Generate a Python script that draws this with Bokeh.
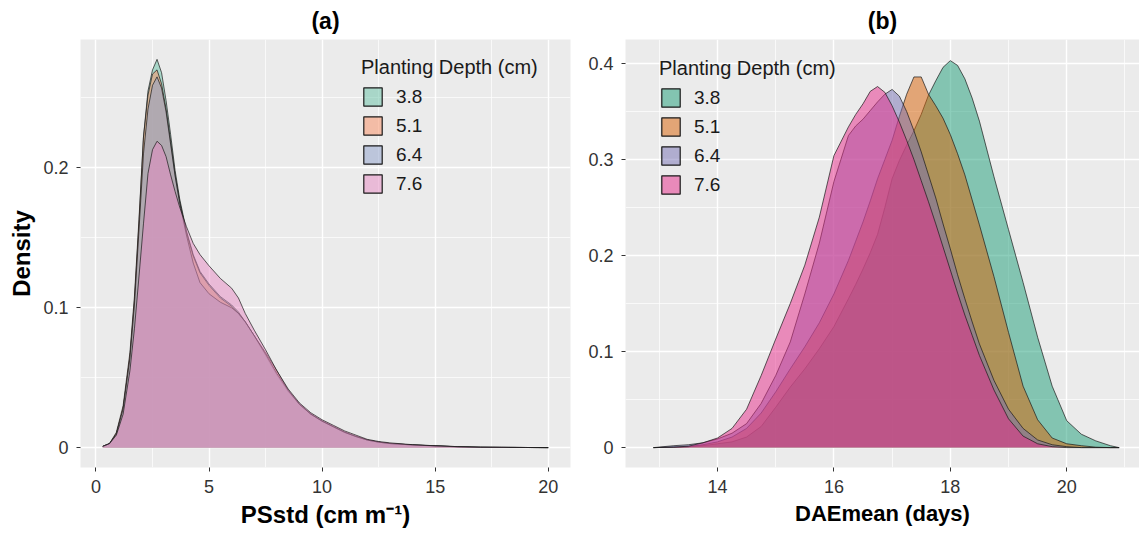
from bokeh.plotting import figure
from bokeh.models import FixedTicker, Legend, LegendItem, Range1d, CustomJSTickFormatter, ColumnDataSource
from bokeh.layouts import row
from bokeh.embed import file_html
from bokeh.resources import INLINE

# ---------------- data ----------------
depths = ["3.8", "5.1", "6.4", "7.6"]

# Panel (a): PSstd density
a_x = [0.3, 0.6, 0.9, 1.2, 1.5, 1.7, 1.9, 2.1, 2.3, 2.5, 2.7, 2.9, 3.1, 3.3, 3.5, 3.7,
       4.0, 4.3, 4.6, 5.0, 5.5, 6.0, 6.3, 6.6, 7.0, 7.5, 8.0, 8.5, 9.0, 9.5, 10.0, 10.5,
       11.0, 11.5, 12.0, 12.5, 13.0, 14.0, 15.0, 16.0, 17.0, 18.0, 19.0, 20.0]
a_38 = [0.001, 0.003, 0.010, 0.028, 0.065, 0.105, 0.160, 0.222, 0.255, 0.270, 0.2775, 0.268,
        0.248, 0.224, 0.198, 0.178, 0.155, 0.138, 0.126, 0.117, 0.108, 0.102, 0.097, 0.090,
        0.080, 0.066, 0.052, 0.040, 0.031, 0.024, 0.019, 0.015, 0.011, 0.008, 0.0055, 0.004,
        0.003, 0.002, 0.0015, 0.0008, 0.0004, 0.0003, 0.0002, 0.0001]
a_51 = [0.001, 0.003, 0.011, 0.030, 0.068, 0.108, 0.163, 0.222, 0.252, 0.267, 0.270, 0.260,
        0.242, 0.219, 0.195, 0.176, 0.154, 0.137, 0.125, 0.116, 0.107, 0.101, 0.096, 0.090,
        0.080, 0.068, 0.055, 0.041, 0.031, 0.024, 0.019, 0.015, 0.011, 0.008, 0.0055, 0.004,
        0.003, 0.002, 0.0013, 0.0007, 0.0004, 0.0003, 0.0002, 0.0001]
a_64 = [0.001, 0.003, 0.010, 0.028, 0.064, 0.102, 0.155, 0.210, 0.242, 0.259, 0.265, 0.257,
        0.240, 0.217, 0.194, 0.175, 0.152, 0.132, 0.118, 0.110, 0.104, 0.100, 0.096, 0.090,
        0.080, 0.067, 0.053, 0.041, 0.031, 0.024, 0.019, 0.015, 0.011, 0.008, 0.0055, 0.004,
        0.003, 0.002, 0.0013, 0.0007, 0.0004, 0.0003, 0.0002, 0.0001]
a_76 = [0.001, 0.003, 0.009, 0.024, 0.055, 0.085, 0.122, 0.160, 0.196, 0.213, 0.219, 0.216,
        0.208, 0.195, 0.183, 0.172, 0.158, 0.146, 0.138, 0.130, 0.121, 0.114, 0.107, 0.096,
        0.084, 0.070, 0.055, 0.042, 0.032, 0.025, 0.020, 0.016, 0.012, 0.009, 0.006, 0.0045,
        0.0035, 0.0022, 0.0014, 0.0008, 0.0004, 0.0003, 0.0002, 0.0001]

# Panel (b): DAEmean density
b_x = [12.9, 13.25, 13.5, 13.75, 14.0, 14.25, 14.5, 14.75, 15.0, 15.25, 15.5, 15.75, 16.0,
       16.25, 16.375, 16.5, 16.625, 16.75, 16.875, 17.0, 17.125, 17.25, 17.375, 17.5, 17.625,
       17.75, 17.875, 18.0, 18.125, 18.25, 18.375, 18.5, 18.75, 19.0, 19.25,
       19.5, 19.75, 20.0, 20.25, 20.5, 20.75, 20.9]
b_38 = [0.0, 0.0005, 0.001, 0.002, 0.004, 0.006, 0.011, 0.022, 0.042, 0.063, 0.082, 0.103,
        0.126, 0.155, 0.170, 0.186, 0.203, 0.222, 0.250, 0.280, 0.299, 0.315, 0.330, 0.347,
        0.367, 0.382, 0.396, 0.403, 0.398, 0.384, 0.364, 0.340, 0.282,
        0.227, 0.172, 0.115, 0.064, 0.028, 0.014, 0.007, 0.002, 0.0]
b_51 = [0.0, 0.0005, 0.001, 0.003, 0.006, 0.011, 0.020, 0.036, 0.058, 0.082, 0.105, 0.130,
        0.160, 0.195, 0.215, 0.235, 0.257, 0.280, 0.300, 0.320, 0.345, 0.368, 0.386, 0.386,
        0.368, 0.356, 0.343, 0.326, 0.306, 0.284, 0.258, 0.232, 0.178,
        0.120, 0.064, 0.029, 0.010, 0.004, 0.002, 0.0005, 0.0, 0.0]
b_64 = [0.0, 0.002, 0.003, 0.005, 0.009, 0.015, 0.025, 0.046, 0.075, 0.110, 0.160, 0.213,
        0.277, 0.325, 0.335, 0.342, 0.351, 0.360, 0.368, 0.373, 0.366, 0.350, 0.330, 0.308,
        0.284, 0.260, 0.233, 0.207, 0.180, 0.155, 0.131, 0.108, 0.070,
        0.040, 0.020, 0.008, 0.003, 0.001, 0.0, 0.0, 0.0, 0.0]
b_76 = [0.0, 0.0005, 0.0015, 0.005, 0.010, 0.020, 0.040, 0.075, 0.113, 0.150, 0.190, 0.240,
        0.304, 0.334, 0.347, 0.358, 0.371, 0.376, 0.370, 0.356, 0.339, 0.320, 0.300, 0.278,
        0.256, 0.233, 0.209, 0.185, 0.161, 0.138, 0.117, 0.096, 0.060,
        0.030, 0.012, 0.004, 0.001, 0.0, 0.0, 0.0, 0.0, 0.0]

a_colors = ["#66C2A5", "#FC8D62", "#8DA0CB", "#E78AC3"]
b_colors = ["#1B9E77", "#D95F02", "#7570B3", "#E7298A"]

FONT = "Liberation Sans"


def style(p, xt, xminor, yt, yminor, label_size):
    p.background_fill_color = "#EBEBEB"
    p.border_fill_color = "white"
    p.outline_line_color = None
    xtick = FixedTicker(ticks=xt, minor_ticks=xminor)
    ytick = FixedTicker(ticks=yt, minor_ticks=yminor)
    p.xaxis.ticker = xtick
    p.xgrid.ticker = xtick
    p.yaxis.ticker = ytick
    p.ygrid.ticker = ytick
    p.grid.grid_line_color = "white"
    p.grid.grid_line_width = 1.4
    p.grid.minor_grid_line_color = "white"
    p.grid.minor_grid_line_width = 0.7
    for ax in (p.xaxis, p.yaxis):
        ax.axis_line_color = None
        ax.major_tick_line_color = "#333333"
        ax.major_tick_out = 4
        ax.major_tick_in = 0
        ax.minor_tick_line_color = None
        ax.major_label_text_font = FONT
        ax.major_label_text_font_size = "18px"
        ax.major_label_text_color = "#333333"
        ax.major_label_standoff = 8
        ax.axis_label_text_font = FONT
        ax.axis_label_text_font_size = label_size
        ax.axis_label_text_font_style = "bold"
        ax.axis_label_text_color = "black"
        ax.axis_label_standoff = 5
    p.yaxis.formatter = CustomJSTickFormatter(code="return tick.toFixed(1).replace(/\\.0$/, '');")
    p.title.align = "center"
    p.title.text_font = FONT
    p.title.text_font_size = "23px"
    p.title.text_font_style = "bold"
    p.title.text_color = "black"
    p.title.standoff = 11


def draw(p, xs, series, colors, loc):
    items = []
    for lab, ys, col in zip(depths, series, colors):
        src = ColumnDataSource(dict(x=xs, y=ys))
        p.varea(x="x", y1=0, y2="y", source=src, fill_color=col, fill_alpha=0.5)
        p.line(x="x", y="y", source=src, line_color="#1a1a1a", line_width=0.7)
        key_src = ColumnDataSource(dict(x=list(xs) + [xs[-1], xs[0]], y=list(ys) + [0, 0]))
        key = p.patch(x="x", y="y", source=key_src, fill_color=col, fill_alpha=0.5,
                      line_color="#1a1a1a", line_width=1.2)
        key.visible = False
        items.append(LegendItem(label=lab, renderers=[key]))
    leg = Legend(items=items, title="Planting Depth (cm)", location=loc)
    leg.background_fill_alpha = 0
    leg.border_line_color = None
    leg.padding = 0
    leg.margin = 0
    leg.spacing = 6
    leg.glyph_width = 23
    leg.glyph_height = 23
    leg.label_height = 23
    leg.label_standoff = 12
    leg.label_text_font = FONT
    leg.label_text_font_size = "19px"
    leg.label_text_color = "#1a1a1a"
    leg.title_text_font = FONT
    leg.title_text_font_size = "20px"
    leg.title_text_font_style = "normal"
    leg.title_text_color = "#1a1a1a"
    leg.title_standoff = 6
    leg.inactive_fill_alpha = 0
    p.add_layout(leg)


pa = figure(width=585, height=533, x_range=Range1d(-0.685, 20.985),
            y_range=Range1d(-0.0141, 0.2917), output_backend="svg", toolbar_location=None,
            min_border_left=80, min_border_right=15, min_border_top=35, min_border_bottom=65,
            title="(a)")
style(pa, [0, 5, 10, 15, 20], [2.5, 7.5, 12.5, 17.5], [0, 0.1, 0.2], [0.05, 0.15, 0.25], "24px")
pa.xaxis.axis_label = "PSstd (cm m\u207b\u00b9)"
pa.yaxis.axis_label = "Density"
draw(pa, a_x, [a_38, a_51, a_64, a_76], a_colors, (281, 272))

pb = figure(width=554, height=533, x_range=Range1d(12.42, 21.25),
            y_range=Range1d(-0.0207, 0.425), output_backend="svg", toolbar_location=None,
            min_border_left=39, min_border_right=0, min_border_top=39, min_border_bottom=66,
            title="(b)")
style(pb, [14, 16, 18, 20], [13, 15, 17, 19, 21], [0, 0.1, 0.2, 0.3, 0.4],
      [0.05, 0.15, 0.25, 0.35], "22px")
pb.xaxis.axis_label = "DAEmean (days)"
draw(pb, b_x, [b_38, b_51, b_64, b_76], b_colors, (34, 271))

layout = row(pa, pb)
open("out.html", "w").write(file_html(layout, INLINE))
